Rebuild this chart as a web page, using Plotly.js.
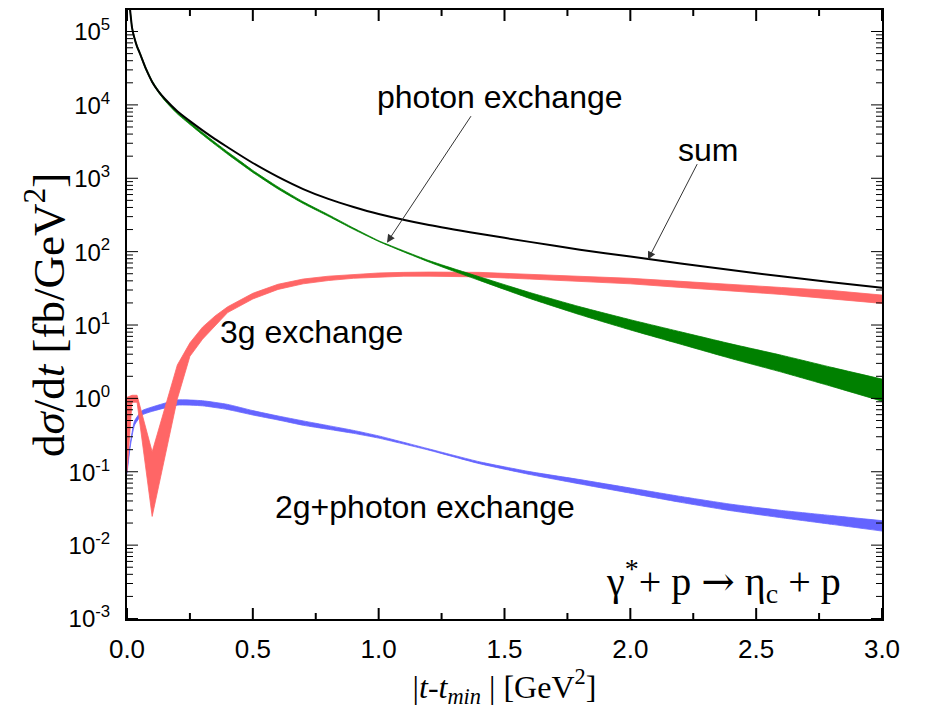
<!DOCTYPE html>
<html>
<head>
<meta charset="utf-8">
<script src="https://cdn.plot.ly/plotly-3.0.1.min.js"></script>
<style>html,body{margin:0;padding:0;background:#fff;}#chart{width:927px;height:724px;}</style>
</head>
<body>
<div id="chart"></div>
<script>
// |t - t_min| in GeV^2 and dsigma/dt in fb/GeV^2
const tSum = [0.01,0.02,0.03,0.04,0.05,0.075,0.1,0.125,0.15,0.2,0.25,0.3,0.35,0.4,0.45,0.5,0.6,0.7,0.8,0.9,1.0,1.2,1.4,1.6,1.8,2.0,2.2,2.4,2.6,2.8,3.0];
const sumVals = [240000,115000,81300,63100,52500,31600,20900,15500,12300,8320,6100,4570,3470,2690,2090,1640,1060,724,531,412,331,234,178,138,108,87,70,56.9,46.8,38.9,32.7];

const tPhoton = [0.01,0.02,0.03,0.04,0.05,0.075,0.1,0.125,0.15,0.2,0.25,0.3,0.35,0.4,0.45,0.5,0.6,0.7,0.8,0.9,1.0,1.1,1.2,1.3,1.4,1.6,1.8,2.0,2.2,2.4,2.6,2.8,3.0];
const photonHi = [248000,119000,84000,65300,54000,32700,21700,16000,12400,8220,5890,4270,3130,2320,1740,1300,774,486,324,213,143,104,76.7,59.2,46.2,28.2,18.0,12.0,8.2,5.62,3.94,2.69,1.86];
const photonLo = [232000,111000,79000,61000,51000,30500,20300,15000,11600,7670,5500,3980,2920,2160,1620,1220,726,460,309,205,140,100.7,73.3,54.7,41.2,23.4,14.0,8.7,5.56,3.55,2.32,1.48,0.93];

const t3g = [0,0.02,0.04,0.1,0.2,0.25,0.3,0.35,0.4,0.5,0.6,0.7,0.8,0.9,1.0,1.1,1.2,1.4,1.6,1.8,2.0,2.2,2.4,2.6,2.8,3.0];
const g3Hi = [1.05,1.12,1.12,0.19,2.9,5.8,9.5,13.5,18,27.5,36.5,43,47,50,52,53,53.5,53,50,47,44,40,36,33,30,26];
const g3Lo = [0.1,0.9,0.9,0.025,1.0,3.8,6.5,10,15,23,31,37,41,44,46,47,47,46,43,40,37,33,29.5,26.5,23,20];

const t2g = [0,0.012,0.03,0.06,0.1,0.2,0.3,0.4,0.5,0.6,0.7,0.8,0.9,1.0,1.2,1.4,1.6,1.8,2.0,2.2,2.4,2.6,2.8,3.0];
const g2Hi = [0.105,0.234,0.50,0.692,0.776,0.966,0.944,0.841,0.692,0.585,0.501,0.432,0.372,0.313,0.208,0.139,0.102,0.0794,0.061,0.0468,0.0367,0.0302,0.0257,0.0219];
const g2Lo = [0.0955,0.214,0.44,0.603,0.676,0.822,0.804,0.716,0.603,0.516,0.437,0.385,0.339,0.292,0.200,0.131,0.0933,0.0692,0.0519,0.0389,0.0299,0.024,0.0195,0.0158];

const xRange = [0, 3];
const yRange = [-3, 5.3];
const yTickVals = [1e-3,1e-2,1e-1,1,10,100,1000,1e4,1e5];
const yTickText = ['10<sup>-3</sup>','10<sup>-2</sup>','10<sup>-1</sup>','10<sup>0</sup>','10<sup>1</sup>','10<sup>2</sup>','10<sup>3</sup>','10<sup>4</sup>','10<sup>5</sup>'];
const xTickVals = [0,0.5,1.0,1.5,2.0,2.5,3.0];
const xTickText = ['0.0','0.5','1.0','1.5','2.0','2.5','3.0'];
const xMinorVals = [0.25,0.75,1.25,1.75,2.25,2.75];
const yMinorMult = [2,3,4,5,6,7,8,9];
const yMinorVals = [];
yTickVals.forEach(d => yMinorMult.forEach(m => { if (d * m < 2e5) yMinorVals.push(d * m); }));

const W = 927, H = 724, M = {l: 127, r: 45, t: 10, b: 105};

function band(x, hi, lo, color, name, shape) {
  return [
    {x: x, y: hi, type: 'scatter', mode: 'lines', line: {color: color, width: 0.8, shape: shape, smoothing: 0.5}, showlegend: false, hoverinfo: 'skip', name: name + ' upper'},
    {x: x, y: lo, type: 'scatter', mode: 'lines', line: {color: color, width: 0.8, shape: shape, smoothing: 0.5}, fill: 'tonexty', fillcolor: color, showlegend: false, name: name}
  ];
}

const blue = 'rgb(100,100,255)';
const red = 'rgb(255,102,102)';
const green = 'rgb(0,128,0)';

// x-axis tick marks (inside, bottom and top) as a line trace on the axes' own scales
const plotH = H - M.t - M.b;
const decPerPx = (yRange[1] - yRange[0]) / plotH;
const xtX = [], xtY = [];
function addXTick(v, len) {
  xtX.push(v, v, null, v, v, null);
  xtY.push(Math.pow(10, yRange[0]), Math.pow(10, yRange[0] + len * decPerPx), null,
           Math.pow(10, yRange[1]), Math.pow(10, yRange[1] - len * decPerPx), null);
}
xTickVals.forEach(v => addXTick(v, 11));
xMinorVals.forEach(v => addXTick(v, 6));

const traces = [].concat(
  band(t2g, g2Hi, g2Lo, blue, '2g+photon exchange', 'spline'),
  band(t3g, g3Hi, g3Lo, red, '3g exchange', 'linear'),
  band(tPhoton, photonHi, photonLo, green, 'photon exchange', 'spline'),
  [{x: tSum, y: sumVals, type: 'scatter', mode: 'lines', line: {color: '#000', width: 2, shape: 'spline', smoothing: 0.5}, showlegend: false, name: 'sum'},
   {x: xtX, y: xtY, type: 'scatter', mode: 'lines', line: {color: '#000', width: 2}, connectgaps: false, showlegend: false, hoverinfo: 'skip', name: 'x ticks'}]
);

// y-axis tick marks (inside, left and right) as small filled rectangles
const shapes = [];
function yTick(v, len) {
  [[0, len], [1, -len]].forEach(([anchor, l]) => shapes.push({
    type: 'rect', xref: 'paper', yref: 'y', xsizemode: 'pixel', ysizemode: 'pixel',
    xanchor: anchor, yanchor: v, x0: 0, x1: l, y0: -1, y1: 1,
    fillcolor: '#000', line: {width: 0}
  }));
}
yTickVals.forEach(v => yTick(v, 11));
yMinorVals.forEach(v => yTick(v, 6));

const tickFont = {family: 'Liberation Sans, Arial, sans-serif', size: 24, color: '#000'};
const labelFont = {family: 'Liberation Sans, Arial, sans-serif', size: 32, color: '#000'};

const layout = {
  width: W, height: H,
  margin: M,
  paper_bgcolor: '#fff', plot_bgcolor: '#fff',
  showlegend: false,
  xaxis: {
    range: xRange, tickmode: 'array', tickvals: xTickVals, ticktext: xTickText,
    ticks: '', showline: true, linecolor: '#000', linewidth: 2, mirror: true,
    showgrid: false, zeroline: false,
    tickfont: {family: 'Liberation Sans, Arial, sans-serif', size: 26, color: '#000'}, ticklabelstandoff: 6,
    title: {text: '|<i>t</i>-<i>t</i><sub><i>min</i></sub> | [GeV<sup>2</sup>]', font: {family: 'Liberation Serif, Times New Roman, serif', size: 32, color: '#000'}, standoff: 12}
  },
  yaxis: {
    type: 'log', range: yRange,
    tickmode: 'array', tickvals: yTickVals, ticktext: yTickText,
    ticks: '', showline: true, linecolor: '#000', linewidth: 2, mirror: true,
    showgrid: false, zeroline: false,
    tickfont: tickFont, ticklabelstandoff: 10
  },
  shapes: shapes,
  annotations: [
    {xref: 'paper', yref: 'paper', x: -0.108, y: 0.5, textangle: -90, xanchor: 'center', yanchor: 'middle', showarrow: false,
     text: 'd<i>σ</i>/d<i>t</i> [fb/GeV<sup>2</sup>]', font: {family: 'Liberation Serif, Times New Roman, serif', size: 45, color: '#000'}},
    {x: 1.482, y: 4.116, xref: 'x', yref: 'y', text: 'photon exchange', showarrow: false, font: labelFont},
    {x: 2.308, y: 3.395, xref: 'x', yref: 'y', text: 'sum', showarrow: false, font: labelFont},
    {x: 0.735, y: 0.918, xref: 'x', yref: 'y', text: '3g exchange', showarrow: false, font: labelFont},
    {x: 1.184, y: -1.476, xref: 'x', yref: 'y', text: '2g+photon exchange', showarrow: false, font: labelFont},
    {x: 2.372, y: -2.483, xref: 'x', yref: 'y', text: 'γ<sup>*</sup>+ p <span style="font-family:DejaVu Serif">→</span> η<sub>c</sub> + p', showarrow: false, font: {family: 'Liberation Serif, Times New Roman, serif', size: 40, color: '#000'}},
    {x: 1.033, y: 2.129, xref: 'x', yref: 'y', text: '', showarrow: true, arrowhead: 2, arrowsize: 1.6, arrowwidth: 1, arrowcolor: '#333', ax: 85, ay: -128, standoff: 0},
    {x: 2.07, y: 1.898, xref: 'x', yref: 'y', text: '', showarrow: true, arrowhead: 2, arrowsize: 1.6, arrowwidth: 1, arrowcolor: '#333', ax: 50, ay: -97, standoff: 0}
  ]
};

Plotly.newPlot('chart', traces, layout, {staticPlot: true});
</script>
</body>
</html>
